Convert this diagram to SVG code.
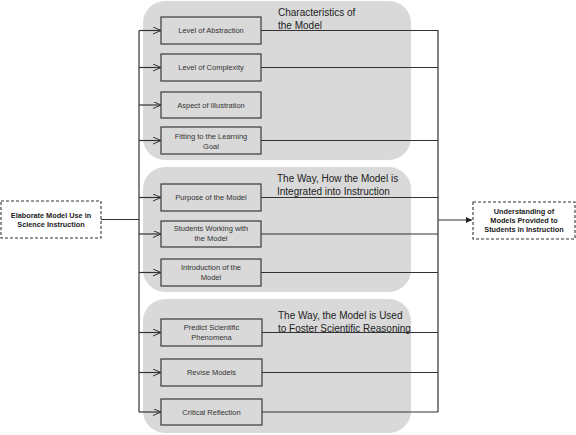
<svg xmlns="http://www.w3.org/2000/svg" width="576" height="435" viewBox="0 0 576 435">
<style>
.grp{fill:#d9d9d9;stroke:none}
.box{fill:#d9d9d9;stroke:#3a3a3a;stroke-width:1.2}
.dash{fill:#fff;stroke:#333;stroke-width:1.1;stroke-dasharray:3,2}
.t{font-family:"Liberation Sans",Arial,sans-serif;font-size:7.5px;fill:#333;text-anchor:middle}
.b{font-family:"Liberation Sans",Arial,sans-serif;font-size:7.3px;font-weight:bold;fill:#222;text-anchor:middle}
.h{font-family:"Liberation Sans",Arial,sans-serif;font-size:10px;fill:#222}
.ln{fill:none;stroke:#333;stroke-width:1.2}
</style>
<defs>
<marker id="open" markerWidth="9" markerHeight="8" refX="8" refY="3.5" orient="auto" markerUnits="userSpaceOnUse">
<path d="M0,0 L8,3.5 L0,7" fill="none" stroke="#333" stroke-width="1"/>
</marker>
<marker id="fill" markerWidth="7" markerHeight="7" refX="6" refY="3" orient="auto" markerUnits="userSpaceOnUse">
<path d="M0,0 L6,3 L0,6 Z" fill="#222"/>
</marker>
</defs>

<g id="group1">
<rect class="grp" x="143" y="1" width="268" height="159" rx="22"/>
<text class="h" x="278" y="16">Characteristics of</text>
<text class="h" x="278" y="29">the Model</text>
</g>
<g id="group2">
<rect class="grp" x="143" y="167" width="268" height="125" rx="22"/>
<text class="h" x="277" y="182">The Way, How the Model is</text>
<text class="h" x="277" y="195">Integrated into Instruction</text>
</g>
<g id="group3">
<rect class="grp" x="143" y="299" width="268" height="134" rx="22"/>
<text class="h" x="278" y="319">The Way, the Model is Used</text>
<text class="h" x="278" y="332">to Foster Scientific Reasoning</text>
</g>

<g id="connectors">
<path class="ln" d="M101,219.5 H139"/>
<path class="ln" d="M139,30.5 V412"/>
<path class="ln" d="M139,30.5 H161" marker-end="url(#open)"/>
<path class="ln" d="M139,67.5 H161" marker-end="url(#open)"/>
<path class="ln" d="M139,105 H161" marker-end="url(#open)"/>
<path class="ln" d="M139,140.5 H161" marker-end="url(#open)"/>
<path class="ln" d="M139,197.5 H161" marker-end="url(#open)"/>
<path class="ln" d="M139,234 H161" marker-end="url(#open)"/>
<path class="ln" d="M139,272.5 H161" marker-end="url(#open)"/>
<path class="ln" d="M139,332.5 H161" marker-end="url(#open)"/>
<path class="ln" d="M139,372.5 H161" marker-end="url(#open)"/>
<path class="ln" d="M139,412 H161" marker-end="url(#open)"/>
<path class="ln" d="M261,30.5 H438 V412"/>
<path class="ln" d="M261,67.5 H438"/>
<path class="ln" d="M261,140.5 H438"/>
<path class="ln" d="M261,197.5 H438"/>
<path class="ln" d="M261,234 H438"/>
<path class="ln" d="M261,272.5 H438"/>
<path class="ln" d="M262,332.5 H438"/>
<path class="ln" d="M262,372.5 H438"/>
<path class="ln" d="M262,412 H438"/>
<path class="ln" d="M438,220 H472" marker-end="url(#fill)"/>
</g>

<g id="elaborate">
<rect class="dash" x="1" y="201" width="100" height="37"/>
<text class="b" x="51" y="217.5">Elaborate Model Use in</text>
<text class="b" x="51" y="227">Science Instruction</text>
</g>
<g id="understanding">
<rect class="dash" x="473" y="202" width="102" height="37"/>
<text class="b" x="524" y="213.5">Understanding of</text>
<text class="b" x="524" y="222.5">Models Provided to</text>
<text class="b" x="524" y="231.5">Students in Instruction</text>
</g>

<g id="abstraction"><rect class="box" x="161" y="17" width="100" height="27"/><text class="t" x="211" y="33">Level of Abstraction</text></g>
<g id="complexity"><rect class="box" x="161" y="54" width="100" height="27"/><text class="t" x="211" y="70">Level of Complexity</text></g>
<g id="illustration"><rect class="box" x="161" y="92" width="100" height="26"/><text class="t" x="211" y="107.5">Aspect of Illustration</text></g>
<g id="fitting"><rect class="box" x="161" y="127" width="100" height="27"/><text class="t" x="211" y="139">Fitting to the Learning</text><text class="t" x="211" y="148.5">Goal</text></g>

<g id="purpose"><rect class="box" x="161" y="184" width="100" height="27"/><text class="t" x="211" y="200">Purpose of the Model</text></g>
<g id="students"><rect class="box" x="161" y="221" width="100" height="26"/><text class="t" x="211" y="231">Students Working with</text><text class="t" x="211" y="240.5">the Model</text></g>
<g id="introduction"><rect class="box" x="161" y="259" width="100" height="27"/><text class="t" x="211" y="270">Introduction of the</text><text class="t" x="211" y="279.5">Model</text></g>

<g id="predict"><rect class="box" x="161" y="319" width="101" height="27"/><text class="t" x="211.5" y="330">Predict Scientific</text><text class="t" x="211.5" y="339.5">Phenomena</text></g>
<g id="revise"><rect class="box" x="161" y="359" width="101" height="27"/><text class="t" x="211.5" y="375">Revise Models</text></g>
<g id="critical"><rect class="box" x="161" y="399" width="101" height="26"/><text class="t" x="211.5" y="414.5">Critical Reflection</text></g>
</svg>
